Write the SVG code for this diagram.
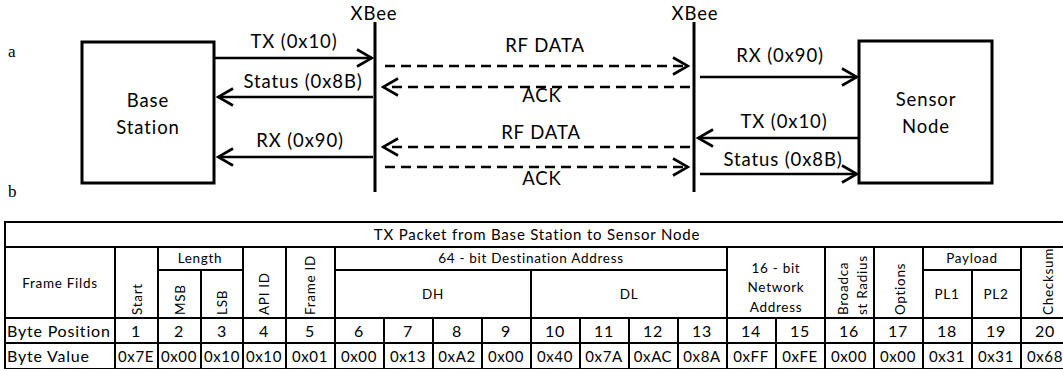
<svg xmlns="http://www.w3.org/2000/svg" width="1063" height="371" viewBox="0 0 1063 371">
<style>
.t{font-family:Lato,"Noto Sans",sans-serif;fill:#000}
.lbl{font-size:18.5px;letter-spacing:0.9px;text-anchor:middle}
.box{fill:#fff;stroke:#000;stroke-width:3}
.xb{stroke:#000;stroke-width:3}
.s{stroke:#000;stroke-width:2.5;fill:none}
.d{stroke:#000;stroke-width:2.5;fill:none;stroke-dasharray:10 6}
.g{stroke:#000;stroke-width:2;fill:none}
.h{font-size:13.5px;letter-spacing:0.7px;text-anchor:middle}
.n{font-size:16px;letter-spacing:0.8px;text-anchor:middle}
.v{font-size:15px;letter-spacing:0.6px;text-anchor:middle}
.r{font-size:13.5px;letter-spacing:0.7px;text-anchor:start}
.ab{font-family:"Liberation Serif",serif;font-size:17px}
</style>
<defs>
<marker id="ah" viewBox="-17 -10 19 20" refX="0" refY="0" markerWidth="19" markerHeight="20" markerUnits="userSpaceOnUse" orient="auto">
<path d="M-15,-8.5 L0,0 L-15,8.5" fill="none" stroke="#000" stroke-width="2.6"/>
</marker>
</defs>
<rect width="1063" height="371" fill="#fff"/>
<text class="ab" x="8" y="57">a</text>
<text class="ab" x="8" y="197">b</text>

<g id="base-station">
<rect class="box" x="82" y="42" width="132" height="141"/>
<text class="t lbl" x="148" y="107">Base</text>
<text class="t lbl" x="148" y="134">Station</text>
</g>
<g id="sensor-node">
<rect class="box" x="859" y="41" width="133" height="142"/>
<text class="t lbl" x="926" y="106">Sensor</text>
<text class="t lbl" x="926" y="133">Node</text>
</g>
<g id="xbee-left">
<line class="xb" x1="375" y1="22" x2="375" y2="192"/>
<text class="t lbl" x="374" y="20">XBee</text>
</g>
<g id="xbee-right">
<line class="xb" x1="694" y1="22" x2="694" y2="192"/>
<text class="t lbl" x="695" y="20">XBee</text>
</g>

<g id="connectors">
<line class="s" x1="215" y1="58" x2="372" y2="58" marker-end="url(#ah)"/>
<line class="s" x1="373" y1="97" x2="218" y2="97" marker-end="url(#ah)"/>
<line class="s" x1="373" y1="157" x2="218" y2="157" marker-end="url(#ah)"/>
<line class="d" x1="385" y1="66" x2="688" y2="66" marker-end="url(#ah)"/>
<line class="d" x1="690" y1="87" x2="383" y2="87" marker-end="url(#ah)"/>
<line class="d" x1="690" y1="147" x2="383" y2="147" marker-end="url(#ah)"/>
<line class="d" x1="385" y1="167" x2="688" y2="167" marker-end="url(#ah)"/>
<line class="s" x1="700" y1="77" x2="857" y2="77" marker-end="url(#ah)"/>
<line class="s" x1="858" y1="138" x2="698" y2="138" marker-end="url(#ah)"/>
<line class="s" x1="700" y1="174" x2="857" y2="174" marker-end="url(#ah)"/>
<text class="t lbl" x="294" y="48">TX (0x10)</text>
<text class="t lbl" x="303" y="88">Status (0x8B)</text>
<text class="t lbl" x="300" y="147">RX (0x90)</text>
<text class="t lbl" x="545" y="52">RF DATA</text>
<text class="t lbl" x="542" y="102">ACK</text>
<text class="t lbl" x="541" y="139">RF DATA</text>
<text class="t lbl" x="542" y="185">ACK</text>
<text class="t lbl" x="780" y="62">RX (0x90)</text>
<text class="t lbl" x="784" y="128">TX (0x10)</text>
<text class="t lbl" x="783" y="166">Status (0x8B)</text>
</g>

<g id="table">
<line class="g" x1="4" y1="222" x2="1070" y2="222"/>
<line class="g" x1="5" y1="221" x2="5" y2="369"/>
<line class="g" x1="5" y1="247" x2="1070" y2="247"/>
<line class="g" x1="158" y1="270" x2="243" y2="270"/>
<line class="g" x1="335" y1="270" x2="727" y2="270"/>
<line class="g" x1="923" y1="270" x2="1021" y2="270"/>
<line class="g" x1="5" y1="318" x2="1070" y2="318"/>
<line class="g" x1="5" y1="343" x2="1070" y2="343"/>
<line stroke="#000" stroke-width="1" x1="5" y1="368.5" x2="1070" y2="368.5"/>
<path class="g" d="M115,247V369M158,247V369M201,270V369M243,247V369M286,247V369M335,247V369M384,318V369M433,318V369M482,318V369M531,270V369M580,318V369M629,318V369M678,318V369M727,247V369M776,318V369M825,247V369M874,247V369M923,247V369M972,270V369M1021,247V369"/>

<text class="t h" x="537" y="240" style="font-size:15px;letter-spacing:0.8px">TX Packet from Base Station to Sensor Node</text>
<text class="t h" x="60" y="288">Frame Filds</text>
<text class="t h" x="200" y="263">Length</text>
<text class="t h" x="531" y="263">64 - bit Destination Address</text>
<text class="t h" x="972" y="263">Payload</text>
<text class="t h" x="433" y="299">DH</text>
<text class="t h" x="629" y="299">DL</text>
<text class="t h" x="776" y="273">16 - bit</text>
<text class="t h" x="776" y="292">Network</text>
<text class="t h" x="776" y="312">Address</text>
<text class="t h" x="947" y="299">PL1</text>
<text class="t h" x="996" y="299">PL2</text>
<text class="t r" transform="translate(142,315) rotate(-90)">Start</text>
<text class="t r" transform="translate(185,315) rotate(-90)">MSB</text>
<text class="t r" transform="translate(227,315) rotate(-90)">LSB</text>
<text class="t r" transform="translate(269,315) rotate(-90)">API ID</text>
<text class="t r" transform="translate(315,315) rotate(-90)">Frame ID</text>
<text class="t r" transform="translate(848,315) rotate(-90)">Broadca</text>
<text class="t r" transform="translate(867,315) rotate(-90)">st Radius</text>
<text class="t r" transform="translate(905,315) rotate(-90)">Options</text>
<text class="t r" transform="translate(1053,315) rotate(-90)">Checksum</text>

<text class="t n" x="7" y="337" style="text-anchor:start">Byte Position</text>
<text class="t n" x="7" y="362" style="text-anchor:start">Byte Value</text>
<g class="t n">
<text x="136" y="337">1</text><text x="179" y="337">2</text><text x="222" y="337">3</text><text x="264" y="337">4</text><text x="310" y="337">5</text>
<text x="359" y="337">6</text><text x="408" y="337">7</text><text x="457" y="337">8</text><text x="506" y="337">9</text><text x="555" y="337">10</text>
<text x="604" y="337">11</text><text x="653" y="337">12</text><text x="702" y="337">13</text><text x="751" y="337">14</text><text x="800" y="337">15</text>
<text x="849" y="337">16</text><text x="898" y="337">17</text><text x="947" y="337">18</text><text x="996" y="337">19</text><text x="1045" y="337">20</text>
</g>
<g class="t v">
<text x="136" y="362">0x7E</text><text x="179" y="362">0x00</text><text x="222" y="362">0x10</text><text x="264" y="362">0x10</text><text x="310" y="362">0x01</text>
<text x="359" y="362">0x00</text><text x="408" y="362">0x13</text><text x="457" y="362">0xA2</text><text x="506" y="362">0x00</text><text x="555" y="362">0x40</text>
<text x="604" y="362">0x7A</text><text x="653" y="362">0xAC</text><text x="702" y="362">0x8A</text><text x="751" y="362">0xFF</text><text x="800" y="362">0xFE</text>
<text x="849" y="362">0x00</text><text x="898" y="362">0x00</text><text x="947" y="362">0x31</text><text x="996" y="362">0x31</text><text x="1045" y="362">0x68</text>
</g>
</g>
</svg>
